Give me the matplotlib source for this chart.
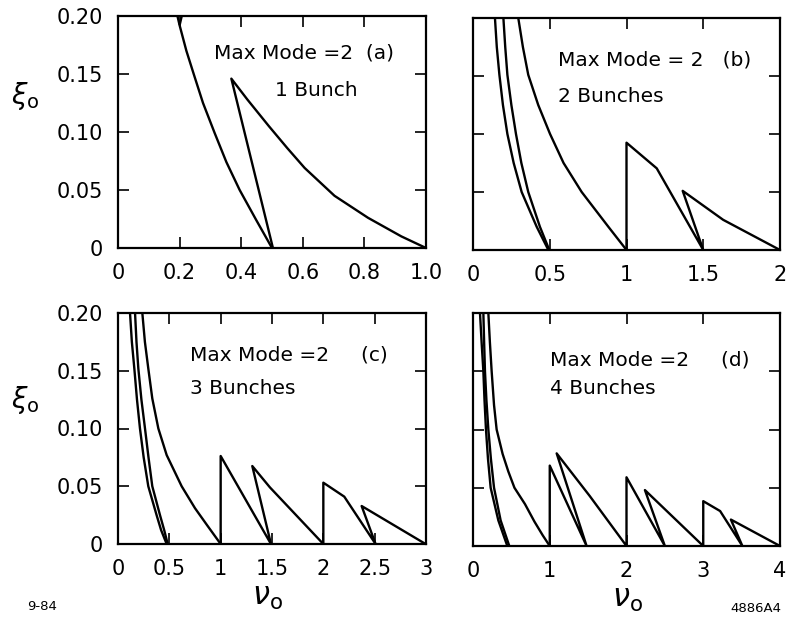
import matplotlib
matplotlib.use("Agg")
import matplotlib.pyplot as plt

plt.rcParams['font.family'] = ['DejaVu Sans']
plt.rcParams['mathtext.fontset'] = 'dejavusans'

# ---- (a) 1 bunch ----
a_c1_nu = [0.193, 0.200, 0.222, 0.247, 0.276, 0.314, 0.352, 0.395, 0.449, 0.500]
a_c1_xi = [0.200, 0.192, 0.170, 0.149, 0.125, 0.099, 0.074, 0.050, 0.024, 0.000]
a_c1b_nu = [0.207, 0.200]
a_c1b_xi = [0.200, 0.192]
a_c2_nu = [0.503, 0.368, 0.420, 0.490, 0.550, 0.606, 0.703, 0.812, 0.920, 1.000]
a_c2_xi = [0.000, 0.146, 0.128, 0.105, 0.086, 0.069, 0.045, 0.026, 0.010, 0.000]

# ---- (b) 2 bunches ----
b_c1_nu = [0.143, 0.155, 0.172, 0.195, 0.224, 0.265, 0.317, 0.415, 0.491]
b_c1_xi = [0.200, 0.175, 0.151, 0.125, 0.100, 0.075, 0.050, 0.020, 0.000]
b_c2_nu = [0.198, 0.210, 0.224, 0.250, 0.280, 0.315, 0.360, 0.436, 0.497]
b_c2_xi = [0.200, 0.175, 0.151, 0.125, 0.100, 0.075, 0.050, 0.020, 0.000]
b_c3_nu = [0.295, 0.325, 0.360, 0.425, 0.502, 0.590, 0.708, 0.882, 1.000]
b_c3_xi = [0.200, 0.175, 0.151, 0.125, 0.100, 0.075, 0.050, 0.020, 0.000]
b_saw_nu = [1.000, 1.000, 1.197, 1.500, 1.366, 1.630, 2.000]
b_saw_xi = [0.000, 0.0925, 0.0704, 0.000, 0.051, 0.026, 0.000]

# ---- (c) 3 bunches ----
c_c1_nu = [0.117, 0.135, 0.159, 0.185, 0.214, 0.250, 0.295, 0.376, 0.420, 0.474]
c_c1_xi = [0.200, 0.175, 0.152, 0.125, 0.100, 0.075, 0.050, 0.025, 0.012, 0.000]
c_c2_nu = [0.166, 0.180, 0.198, 0.228, 0.263, 0.297, 0.334, 0.409, 0.450, 0.484]
c_c2_xi = [0.200, 0.175, 0.152, 0.125, 0.100, 0.075, 0.050, 0.025, 0.012, 0.000]
c_c3_nu = [0.237, 0.262, 0.295, 0.334, 0.393, 0.474, 0.620, 0.750, 0.870, 1.000]
c_c3_xi = [0.200, 0.175, 0.152, 0.126, 0.100, 0.077, 0.050, 0.031, 0.016, 0.000]
c_saw_nu = [1.000, 1.000, 1.490, 1.308, 1.480, 2.000, 2.000, 2.204, 2.509, 2.373, 2.996]
c_saw_xi = [0.000, 0.0762, 0.000, 0.0675, 0.049, 0.000, 0.0531, 0.041, 0.000, 0.0329, 0.000]

# ---- (d) 4 bunches ----
d_c1_nu = [0.091, 0.112, 0.135, 0.150, 0.169, 0.195, 0.230, 0.330, 0.447]
d_c1_xi = [0.200, 0.175, 0.150, 0.125, 0.100, 0.075, 0.050, 0.022, 0.000]
d_c2_nu = [0.135, 0.145, 0.156, 0.175, 0.200, 0.233, 0.274, 0.360, 0.473]
d_c2_xi = [0.200, 0.175, 0.150, 0.125, 0.100, 0.075, 0.050, 0.022, 0.000]
d_c3_nu = [0.200, 0.220, 0.243, 0.274, 0.308, 0.386, 0.460, 0.540, 0.677, 0.800, 0.910, 1.000]
d_c3_xi = [0.200, 0.175, 0.150, 0.121, 0.100, 0.079, 0.064, 0.050, 0.036, 0.021, 0.009, 0.000]
d_saw_nu = [1.000, 1.000, 1.480, 1.090, 1.520, 2.000, 2.000, 2.500, 2.240, 3.000,
            3.000, 3.220, 3.510, 3.360, 4.000]
d_saw_xi = [0.000, 0.069, 0.000, 0.0795, 0.043, 0.000, 0.059, 0.000, 0.048, 0.000,
            0.0385, 0.030, 0.000, 0.0227, 0.000]

# ---- axes ticks ----
y_ticks = [0, 0.05, 0.10, 0.15, 0.20]
y_labels = ["0", "0.05", "0.10", "0.15", "0.20"]
a_ticks = [0, 0.2, 0.4, 0.6, 0.8, 1.0]
a_labels = ["0", "0.2", "0.4", "0.6", "0.8", "1.0"]
b_ticks = [0, 0.5, 1, 1.5, 2]
b_labels = ["0", "0.5", "1", "1.5", "2"]
c_ticks = [0, 0.5, 1, 1.5, 2, 2.5, 3]
c_labels = ["0", "0.5", "1", "1.5", "2", "2.5", "3"]
d_ticks = [0, 1, 2, 3, 4]
d_labels = ["0", "1", "2", "3", "4"]

fig = plt.figure(figsize=(7.86, 6.21), dpi=100)

W, H = 786.0, 621.0


def make_axes(x0, x1, ytop, ybot):
    return fig.add_axes([x0 / W, 1 - ybot / H, (x1 - x0) / W, (ybot - ytop) / H])


ax_a = make_axes(118, 426, 16, 248)
ax_b = make_axes(473, 780, 18, 250)
ax_c = make_axes(118, 426, 313, 544)
ax_d = make_axes(473, 780, 313, 546)

LW = 1.7
panels = [
    (ax_a, [(a_c1_nu, a_c1_xi), (a_c1b_nu, a_c1b_xi), (a_c2_nu, a_c2_xi)],
     a_ticks, a_labels, 1.0, True),
    (ax_b, [(b_c1_nu, b_c1_xi), (b_c2_nu, b_c2_xi), (b_c3_nu, b_c3_xi), (b_saw_nu, b_saw_xi)],
     b_ticks, b_labels, 2.0, False),
    (ax_c, [(c_c1_nu, c_c1_xi), (c_c2_nu, c_c2_xi), (c_c3_nu, c_c3_xi), (c_saw_nu, c_saw_xi)],
     c_ticks, c_labels, 3.0, True),
    (ax_d, [(d_c1_nu, d_c1_xi), (d_c2_nu, d_c2_xi), (d_c3_nu, d_c3_xi), (d_saw_nu, d_saw_xi)],
     d_ticks, d_labels, 4.0, False),
]

for ax, lines, xt, xl, xmax, show_y in panels:
    for nu, xi in lines:
        ax.plot(nu, xi, color="black", lw=LW, solid_joinstyle="round",
                solid_capstyle="butt")
    ax.set_xlim(0, xmax)
    ax.set_ylim(0, 0.20)
    ax.set_xticks(xt)
    ax.set_xticklabels(xl)
    ax.set_yticks(y_ticks)
    ax.set_yticklabels(y_labels if show_y else [])
    ax.tick_params(direction="in", length=8, width=1.2, top=True, right=True,
                   labelsize=15, pad=11)
    for s in ax.spines.values():
        s.set_linewidth(1.6)


def fig_text(x, y, s, **kw):
    fig.text(x / W, 1 - y / H, s, va="center", **kw)


# panel annotations
fig_text(214, 53, "Max Mode =2  (a)", fontsize=14.5, ha="left")
fig_text(275, 90, "1 Bunch", fontsize=14.5, ha="left")
fig_text(558, 60, "Max Mode = 2   (b)", fontsize=14.5, ha="left")
fig_text(558, 96, "2 Bunches", fontsize=14.5, ha="left")
fig_text(190, 355, "Max Mode =2     (c)", fontsize=14.5, ha="left")
fig_text(190, 389, "3 Bunches", fontsize=14.5, ha="left")
fig_text(550, 360, "Max Mode =2     (d)", fontsize=14.5, ha="left")
fig_text(550, 388, "4 Bunches", fontsize=14.5, ha="left")

# axis labels
fig_text(25, 96, r"$\xi_{\rm o}$", fontsize=20, ha="center")
fig_text(25, 400, r"$\xi_{\rm o}$", fontsize=20, ha="center")
fig_text(267, 598, r"$\nu_{\rm o}$", fontsize=22, ha="center")
fig_text(627, 600, r"$\nu_{\rm o}$", fontsize=22, ha="center")

fig_text(27, 607, "9-84", fontsize=9.5, ha="left")
fig_text(781, 609, "4886A4", fontsize=9.5, ha="right")

fig.savefig("out.png", dpi=100, facecolor="white")
